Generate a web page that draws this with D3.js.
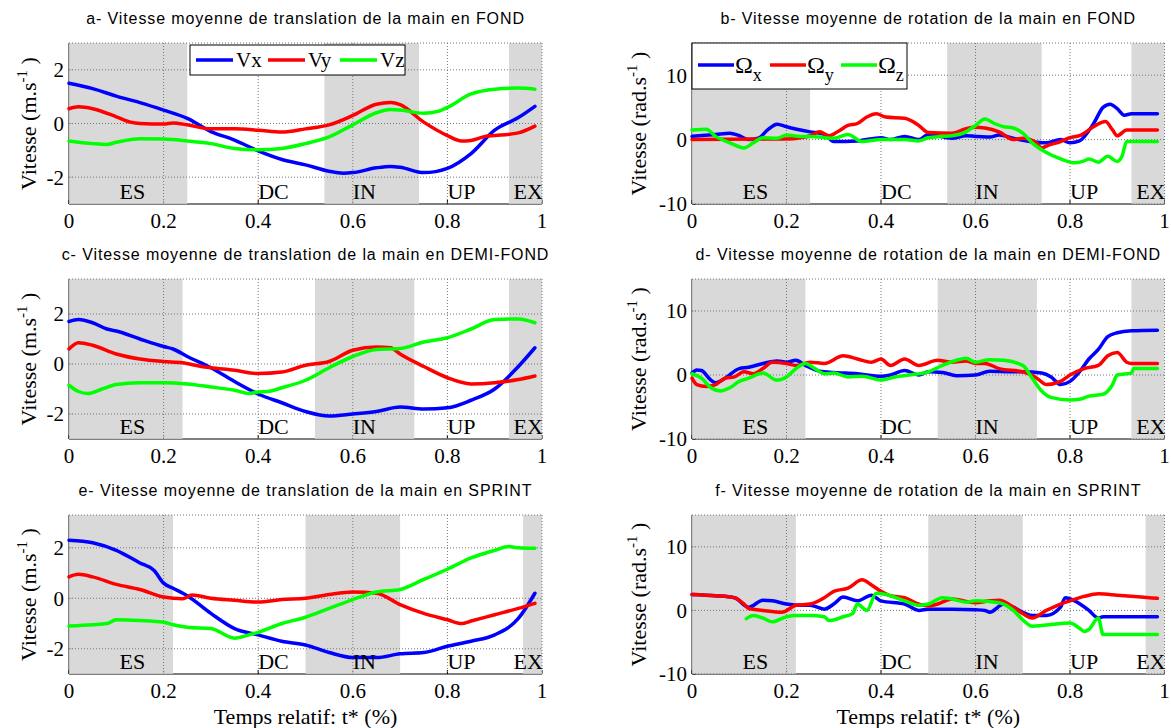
<!DOCTYPE html>
<html><head><meta charset="utf-8">
<script src="https://cdn.jsdelivr.net/npm/d3@7"></script>
<style>
html,body{margin:0;padding:0;background:#fff;}
svg{display:block;}
</style></head>
<body>
<svg id="chart" width="1171" height="728"></svg>
<script>
// ---------------- DATA ----------------
const phaseNames = ["ES","DC","IN","UP","EX"];
const phaseLabelPos = [0.107, 0.4, 0.6, 0.8, 0.94];
// shaded phases [start,end] for each race: ES, IN, EX
const shadeFond = [[0,0.25],[0.54,0.74],[0.93,1]];
const shadeDemi = [[0,0.24],[0.52,0.73],[0.93,1]];
const shadeSprint = [[0,0.22],[0.50,0.70],[0.96,1]];
const xTicks = [0,0.2,0.4,0.6,0.8,1];
const xTickLabels = ["0","0.2","0.4","0.6","0.8","1"];
const yTicksTrans = [-2,0,2];
const yTicksRot = [-10,0,10];
const titles = [
  "a- Vitesse moyenne de translation de la main en FOND",
  "b- Vitesse moyenne de rotation de la main en FOND",
  "c- Vitesse moyenne de translation de la main en DEMI-FOND",
  "d- Vitesse moyenne de rotation de la main en DEMI-FOND",
  "e- Vitesse moyenne de translation de la main en SPRINT",
  "f- Vitesse moyenne de rotation de la main en SPRINT"
];
const transLegend = ["Vx","Vy","Vz"];
const rotLegendSub = ["x","y","z"];
const seriesColors = ["#0000ff","#ff0000","#00ff00"];

// a - translation FOND
const a_vx_t = [0,0.05,0.1,0.15,0.2,0.25,0.3,0.35,0.4,0.45,0.5,0.55,0.58,0.6,0.65,0.68,0.7,0.75,0.8,0.85,0.9,0.95,0.985];
const a_vx   = [1.5,1.3,1.02,0.78,0.5,0.19,-0.3,-0.62,-1.02,-1.34,-1.54,-1.78,-1.85,-1.83,-1.65,-1.6,-1.63,-1.83,-1.67,-1.12,-0.25,0.22,0.64];
const a_vy_t = [0,0.02,0.05,0.1,0.13,0.15,0.2,0.22,0.25,0.3,0.35,0.4,0.45,0.5,0.55,0.6,0.65,0.68,0.7,0.75,0.8,0.83,0.85,0.88,0.9,0.95,0.985];
const a_vy   = [0.55,0.62,0.55,0.25,0.05,0.0,-0.02,0.02,-0.05,-0.2,-0.2,-0.25,-0.32,-0.2,-0.05,0.3,0.72,0.78,0.7,0.05,-0.45,-0.65,-0.63,-0.48,-0.45,-0.35,-0.1];
const a_vz_t = [0,0.05,0.08,0.1,0.15,0.2,0.25,0.3,0.35,0.4,0.45,0.5,0.55,0.6,0.65,0.68,0.7,0.75,0.78,0.8,0.85,0.9,0.95,0.985];
const a_vz   = [-0.65,-0.75,-0.78,-0.7,-0.57,-0.58,-0.65,-0.75,-0.93,-0.98,-0.93,-0.75,-0.5,-0.05,0.4,0.52,0.5,0.38,0.45,0.6,1.1,1.28,1.32,1.28];

// c - translation DEMI-FOND
const c_vx_t = [0,0.02,0.05,0.08,0.1,0.15,0.2,0.22,0.25,0.3,0.35,0.4,0.45,0.5,0.55,0.6,0.65,0.7,0.75,0.8,0.85,0.9,0.95,0.985];
const c_vx   = [1.7,1.78,1.65,1.4,1.32,1.0,0.7,0.6,0.3,-0.15,-0.7,-1.2,-1.55,-1.9,-2.08,-2.0,-1.9,-1.72,-1.8,-1.75,-1.45,-1.0,-0.1,0.65];
const c_vy_t = [0,0.02,0.05,0.1,0.15,0.2,0.24,0.28,0.3,0.35,0.4,0.45,0.5,0.55,0.6,0.65,0.68,0.7,0.75,0.8,0.85,0.9,0.95,0.985];
const c_vy   = [0.6,0.85,0.75,0.4,0.2,0.1,0.05,-0.1,-0.15,-0.25,-0.38,-0.32,-0.05,0.1,0.55,0.68,0.65,0.4,-0.1,-0.55,-0.8,-0.75,-0.62,-0.48];
const c_vz_t = [0,0.02,0.04,0.07,0.1,0.15,0.2,0.25,0.3,0.35,0.38,0.4,0.42,0.45,0.5,0.55,0.6,0.65,0.7,0.75,0.8,0.85,0.9,0.95,0.985];
const c_vz   = [-0.85,-1.1,-1.18,-1.0,-0.82,-0.75,-0.75,-0.8,-0.92,-1.05,-1.18,-1.12,-1.1,-0.95,-0.65,-0.15,0.3,0.58,0.62,0.88,1.05,1.4,1.78,1.8,1.65];

// e - translation SPRINT
const e_vx_t = [0,0.05,0.1,0.15,0.18,0.2,0.22,0.25,0.3,0.35,0.4,0.45,0.5,0.55,0.6,0.65,0.7,0.75,0.8,0.85,0.9,0.95,0.985];
const e_vx   = [2.3,2.2,1.9,1.4,1.1,0.6,0.4,0.1,-0.6,-1.2,-1.45,-1.7,-1.85,-2.15,-2.35,-2.35,-2.2,-2.15,-1.9,-1.7,-1.45,-0.8,0.2];
const e_vy_t = [0,0.02,0.05,0.1,0.15,0.2,0.24,0.26,0.3,0.35,0.4,0.45,0.5,0.55,0.6,0.65,0.7,0.75,0.8,0.83,0.85,0.9,0.95,0.985];
const e_vy   = [0.85,0.95,0.85,0.55,0.35,0.05,-0.02,0.13,0.0,-0.08,-0.15,-0.05,0.0,0.15,0.25,0.2,-0.25,-0.6,-0.85,-1.0,-0.9,-0.65,-0.4,-0.2];
const e_vz_t = [0,0.05,0.08,0.1,0.15,0.2,0.22,0.25,0.3,0.35,0.38,0.4,0.45,0.5,0.55,0.6,0.65,0.7,0.75,0.8,0.85,0.9,0.93,0.95,0.985];
const e_vz   = [-1.1,-1.05,-1.0,-0.85,-0.88,-0.95,-1.05,-1.15,-1.2,-1.58,-1.45,-1.35,-1.0,-0.75,-0.4,-0.05,0.25,0.35,0.75,1.15,1.6,1.9,2.05,2.0,1.98];

// b - rotation FOND
const b_ox_t = [0,0.05,0.08,0.1,0.12,0.14,0.16,0.18,0.2,0.25,0.28,0.3,0.35,0.4,0.42,0.45,0.48,0.5,0.55,0.58,0.6,0.63,0.65,0.68,0.7,0.75,0.78,0.8,0.82,0.85,0.87,0.885,0.9,0.915,0.93,0.985];
const b_ox   = [0.5,0.8,1.0,0.6,0.0,0.2,1.5,2.4,2.0,1.2,0.8,-0.3,-0.2,0.3,0.0,0.5,0.0,0.8,0.2,0.6,0.5,0.4,0.7,0.2,-0.1,-0.5,0.0,-0.5,-0.2,2.5,5.0,5.5,4.8,3.8,4.0,4.0];
const b_oy_t = [0,0.2,0.23,0.25,0.27,0.29,0.31,0.33,0.35,0.37,0.39,0.41,0.45,0.48,0.5,0.55,0.58,0.6,0.62,0.65,0.68,0.7,0.73,0.74,0.75,0.78,0.8,0.82,0.85,0.875,0.89,0.9,0.92,0.985];
const b_oy   = [0,0.1,0.3,0.6,1.2,0.6,1.3,2.2,2.5,3.5,4.0,3.5,3.3,2.2,1.1,1.0,1.7,1.9,1.8,1.2,0.0,0.2,-0.6,-1.3,-1.0,-0.3,0.3,0.6,2.0,2.8,1.5,0.6,1.5,1.5];
const b_oz_t = [0,0.03,0.05,0.08,0.11,0.13,0.15,0.18,0.2,0.23,0.25,0.28,0.3,0.33,0.36,0.4,0.45,0.48,0.5,0.53,0.55,0.58,0.6,0.62,0.64,0.66,0.68,0.7,0.72,0.75,0.78,0.81,0.83,0.84,0.86,0.88,0.9,0.91,0.92,0.985];
const b_oz   = [1.5,1.6,0.5,-0.5,-1.3,-0.5,0.3,0.2,0.7,0.5,0.5,0.3,0.2,0.8,-0.3,0.0,0.0,-0.2,0.3,0.5,0.6,1.2,2.2,3.2,2.5,2.0,1.8,1.0,-0.5,-2.0,-3.0,-3.6,-3.3,-3.0,-3.5,-2.6,-3.4,-2.6,-0.3,-0.3];

// d - rotation DEMI-FOND
const d_ox_t = [0,0.01,0.02,0.04,0.05,0.07,0.1,0.12,0.15,0.18,0.2,0.22,0.24,0.27,0.3,0.35,0.4,0.42,0.45,0.48,0.5,0.53,0.56,0.6,0.63,0.68,0.7,0.74,0.76,0.78,0.8,0.82,0.84,0.86,0.88,0.9,0.93,0.985];
const d_ox   = [0.3,0.8,0.7,-0.8,-1.2,-0.5,1.0,1.2,1.8,2.2,2.0,2.3,1.5,0.6,0.4,0.2,-0.2,0.0,0.7,0.0,0.5,0.4,-0.1,0.0,0.6,0.5,0.5,0.3,-0.3,-1.5,-1.0,0.5,2.5,4.0,6.0,6.6,6.9,7.0];
const d_oy_t = [0,0.01,0.03,0.05,0.07,0.09,0.11,0.13,0.15,0.17,0.2,0.22,0.25,0.28,0.32,0.35,0.38,0.4,0.42,0.45,0.48,0.52,0.55,0.58,0.6,0.62,0.65,0.7,0.73,0.75,0.78,0.8,0.83,0.86,0.88,0.9,0.92,0.93,0.985];
const d_oy   = [-0.5,-1.5,-1.8,-1.5,-0.5,-0.3,0.5,0.2,1.0,2.0,1.8,1.5,2.0,1.8,3.0,2.5,2.0,2.5,1.5,2.5,1.5,2.3,2.0,2.2,1.8,1.8,1.0,0.5,-0.5,-1.5,-1.0,0.0,1.0,1.5,3.0,3.5,2.0,1.8,1.8];
const d_oz_t = [0,0.02,0.04,0.06,0.08,0.1,0.12,0.15,0.18,0.2,0.22,0.24,0.26,0.28,0.3,0.33,0.36,0.4,0.43,0.46,0.5,0.53,0.56,0.58,0.6,0.63,0.66,0.7,0.72,0.74,0.76,0.8,0.82,0.84,0.87,0.89,0.9,0.93,0.935,0.985];
const d_oz   = [0.2,-0.5,-2.0,-2.5,-2.0,-1.0,-0.5,0.3,-0.8,-0.3,1.0,1.8,1.0,0.2,0.3,-0.3,-0.2,-0.8,-0.3,0.0,0.5,1.5,2.3,2.6,2.0,2.4,2.3,1.5,-0.5,-2.5,-3.5,-3.9,-3.8,-3.3,-3.0,-1.5,0.0,0.3,1.0,1.0];

// f - rotation SPRINT
const f_ox_t = [0,0.05,0.09,0.12,0.15,0.17,0.2,0.23,0.25,0.28,0.3,0.32,0.35,0.38,0.4,0.45,0.48,0.5,0.55,0.6,0.62,0.63,0.66,0.68,0.7,0.72,0.75,0.78,0.79,0.81,0.84,0.86,0.87,0.985];
const f_ox   = [2.5,2.3,2.0,0.5,1.6,1.5,1.0,0.8,0.8,0.2,1.0,2.1,1.5,2.4,1.5,1.0,0.0,0.2,0.2,0.1,0.0,-0.3,1.0,0.5,-0.3,-0.8,-0.8,0.5,2.0,1.5,0.0,-1.2,-1.0,-1.0];
const f_oy_t = [0,0.05,0.09,0.11,0.12,0.15,0.19,0.22,0.25,0.28,0.3,0.33,0.36,0.38,0.4,0.42,0.45,0.48,0.5,0.52,0.55,0.6,0.63,0.65,0.68,0.7,0.72,0.75,0.78,0.8,0.83,0.86,0.9,0.95,0.985];
const f_oy   = [2.5,2.3,2.0,1.0,0.3,0.0,-0.3,0.8,1.0,2.0,3.0,3.5,4.8,4.0,3.0,2.3,2.0,1.0,0.7,1.0,1.8,1.2,1.5,1.6,0.5,-0.5,-1.2,0.0,1.0,1.5,2.2,2.6,2.4,2.1,1.9];
const f_oz_t = [0.115,0.13,0.15,0.17,0.2,0.22,0.25,0.28,0.29,0.32,0.34,0.35,0.37,0.39,0.41,0.45,0.48,0.5,0.53,0.55,0.58,0.6,0.65,0.68,0.7,0.72,0.75,0.8,0.82,0.83,0.84,0.86,0.87,0.985];
const f_oz   = [-1.3,-0.8,-1.2,-1.8,-1.0,-0.8,-0.8,-1.0,-1.6,-1.0,-0.5,1.0,0.0,2.7,2.5,1.5,0.8,1.0,2.0,1.8,1.3,1.5,1.2,0.0,-1.5,-2.5,-2.3,-2.0,-2.8,-3.3,-3.0,-1.2,-3.8,-3.8];

// ---------------- LAYOUT ----------------
const svg = d3.select("#chart");
const colX = [[69,542],[692,1164.5]];
const rowY = [[43,204],[279,439],[515,674]];
const serif = "'Liberation Serif','Times New Roman',serif";
const sans = "'Liberation Sans',Arial,sans-serif";

const panels = [
  {col:0,row:0,ylim:[-3,3],yt:yTicksTrans,unit:"m",shade:shadeFond,series:[[a_vx_t,a_vx],[a_vy_t,a_vy],[a_vz_t,a_vz]],legend:"trans"},
  {col:1,row:0,ylim:[-10,15],yt:yTicksRot,unit:"rad",shade:shadeFond,series:[[b_ox_t,b_ox],[b_oy_t,b_oy],[b_oz_t,b_oz]],legend:"rot"},
  {col:0,row:1,ylim:[-3,3.4],yt:yTicksTrans,unit:"m",shade:shadeDemi,series:[[c_vx_t,c_vx],[c_vy_t,c_vy],[c_vz_t,c_vz]]},
  {col:1,row:1,ylim:[-10,15],yt:yTicksRot,unit:"rad",shade:shadeDemi,series:[[d_ox_t,d_ox],[d_oy_t,d_oy],[d_oz_t,d_oz]]},
  {col:0,row:2,ylim:[-3,3.3],yt:yTicksTrans,unit:"m",shade:shadeSprint,series:[[e_vx_t,e_vx],[e_vy_t,e_vy],[e_vz_t,e_vz]],xlabel:true},
  {col:1,row:2,ylim:[-10,15],yt:yTicksRot,unit:"rad",shade:shadeSprint,series:[[f_ox_t,f_ox],[f_oy_t,f_oy],[f_oz_t,f_oz]],xlabel:true}
];

panels.forEach((p,i)=>{
  const [x0,x1] = colX[p.col];
  const [y0,y1] = rowY[p.row];
  const x = d3.scaleLinear().domain([0,1]).range([x0,x1]);
  const y = d3.scaleLinear().domain(p.ylim).range([y1,y0]);
  const g = svg.append("g");

  // title
  g.append("text").attr("x",(x0+x1)/2).attr("y",y0-19)
    .attr("text-anchor","middle").attr("font-family",sans).attr("font-size",16)
    .attr("letter-spacing","0.9px")
    .text(titles[i]);

  // axis lines (under shading)
  g.append("line").attr("x1",x0).attr("x2",x0).attr("y1",y0).attr("y2",y1).attr("stroke","#000").attr("stroke-width",1);
  g.append("line").attr("x1",x0).attr("x2",x1).attr("y1",y1).attr("y2",y1).attr("stroke","#000").attr("stroke-width",1);
  xTicks.forEach(t=>{
    g.append("line").attr("x1",x(t)).attr("x2",x(t)).attr("y1",y1).attr("y2",y1-4).attr("stroke","#000");
  });
  p.yt.forEach(v=>{
    g.append("line").attr("x1",x0).attr("x2",x0+4).attr("y1",y(v)).attr("y2",y(v)).attr("stroke","#000");
  });

  // shading
  p.shade.forEach(s=>{
    g.append("rect").attr("x",x(s[0])).attr("y",y0).attr("width",x(s[1])-x(s[0])).attr("height",y1-y0)
      .attr("fill","#d2d2d2").attr("fill-opacity",0.85);
  });

  // grid
  const grid = g.append("g").attr("stroke","#777").attr("stroke-width",1).attr("stroke-dasharray","1,2");
  xTicks.slice(1).forEach(t=>{
    grid.append("line").attr("x1",x(t)).attr("x2",x(t)).attr("y1",y0).attr("y2",y1);
  });
  p.yt.forEach(v=>{
    grid.append("line").attr("x1",x0).attr("x2",x1).attr("y1",y(v)).attr("y2",y(v));
  });
  grid.append("line").attr("x1",x0).attr("x2",x1).attr("y1",y0).attr("y2",y0);

  // tick labels
  xTicks.forEach((t,k)=>{
    g.append("text").attr("x",x(t)).attr("y",y1+24).attr("text-anchor","middle")
      .attr("font-family",serif).attr("font-size",21).text(xTickLabels[k]);
  });
  p.yt.forEach(v=>{
    g.append("text").attr("x",x0-5).attr("y",y(v)).attr("dy","0.35em").attr("text-anchor","end")
      .attr("font-family",serif).attr("font-size",21).text(String(v));
  });

  // y label
  const lx = p.col===0 ? x0-41 : x0-54;
  const yl = g.append("text").attr("transform",`translate(${lx},${(y0+y1)/2}) rotate(-90)`)
    .attr("text-anchor","middle").attr("dy","0.35em").attr("font-family",serif).attr("font-size",22);
  yl.append("tspan").text(`Vitesse (${p.unit}.s`);
  yl.append("tspan").attr("font-size",15).attr("dy",-9).text("-1");
  yl.append("tspan").attr("dy",9).text(" )");

  // data lines
  const line = d3.line().x(d=>x(d[0])).y(d=>y(d[1])).curve(d3.curveMonotoneX);
  p.series.forEach((s,k)=>{
    const pts = s[0].map((t,j)=>[t,s[1][j]]);
    g.append("path").datum(pts).attr("d",line).attr("fill","none")
      .attr("stroke",seriesColors[k]).attr("stroke-width",3.5).attr("stroke-linejoin","round").attr("stroke-linecap","round");
  });

  // phase labels
  phaseNames.forEach((n,k)=>{
    g.append("text").attr("x",x(phaseLabelPos[k])).attr("y",y1-5)
      .attr("font-family",serif).attr("font-size",22).text(n);
  });

  // x label
  if(p.xlabel){
    g.append("text").attr("x",(x0+x1)/2).attr("y",724).attr("text-anchor","middle")
      .attr("font-family",serif).attr("font-size",22).text("Temps relatif: t* (%)");
  }

  // legends
  if(p.legend==="trans"){
    const lg = g.append("g");
    lg.append("rect").attr("x",190).attr("y",45).attr("width",215).attr("height",30)
      .attr("fill","#fff").attr("stroke","#000").attr("stroke-width",1);
    const starts = [196,268,340];
    starts.forEach((sx,k)=>{
      lg.append("line").attr("x1",sx).attr("x2",sx+37).attr("y1",60).attr("y2",60)
        .attr("stroke",seriesColors[k]).attr("stroke-width",3.5);
      lg.append("text").attr("x",sx+40).attr("y",67).attr("font-family",serif).attr("font-size",21).text(transLegend[k]);
    });
  }
  if(p.legend==="rot"){
    const lg = g.append("g");
    lg.append("rect").attr("x",692).attr("y",43).attr("width",215).attr("height",46)
      .attr("fill","#fff").attr("stroke","#000").attr("stroke-width",1);
    const starts = [698,770,841];
    starts.forEach((sx,k)=>{
      lg.append("line").attr("x1",sx).attr("x2",sx+36).attr("y1",65).attr("y2",65)
        .attr("stroke",seriesColors[k]).attr("stroke-width",3.5);
      const tx = lg.append("text").attr("x",sx+37).attr("y",73).attr("font-family",serif).attr("font-size",24);
      tx.append("tspan").text("Ω");
      tx.append("tspan").attr("font-size",18).attr("dy",8).text(rotLegendSub[k]);
    });
  }
});
</script>
</body></html>
